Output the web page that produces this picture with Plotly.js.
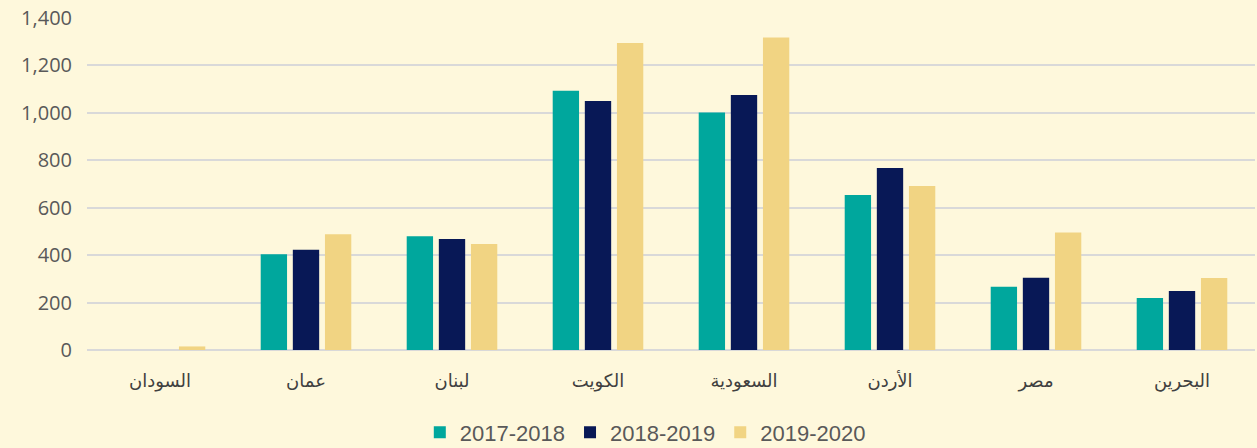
<!DOCTYPE html>
<html><head><meta charset="utf-8">
<script src="https://cdn.plot.ly/plotly-3.0.1.min.js"></script>
<style>html,body{margin:0;padding:0;background:#FEF8DC;}#c{width:1257px;height:448px;}</style>
</head><body><div id="c"></div>
<script>
const categories = ["السودان","عمان","لبنان","الكويت","السعودية","الأردن","مصر","البحرين"];
const seriesNames = ["2017-2018","2018-2019","2019-2020"];
const v2017 = [0, 404, 480, 1093, 1002, 654, 267, 219];
const v2018 = [0, 423, 468, 1050, 1075, 767, 305, 249];
const v2019 = [15, 488, 447, 1295, 1318, 692, 495, 304];
const yTicks = [0,200,400,600,800,1000,1200,1400];
const yTickText = ["0","200","400","600","800","1,000","1,200","1,400"];
const colors = ["#00A79D","#081856","#F1D483"];
const vals = [v2017, v2018, v2019];
const traces = vals.map((v,i)=>({
  type:"bar", x:categories, y:v, name:seriesNames[i],
  marker:{color:colors[i], line:{width:0}}
}));
const layout = {
  width:1257, height:448,
  paper_bgcolor:"#FEF8DC", plot_bgcolor:"#FEF8DC",
  margin:{l:87, r:2, t:18, b:98, autoexpand:false},
  barmode:"group", bargap:0.34, bargroupgap:0.18,
  font:{family:"Liberation Sans, Arial, sans-serif", color:"#595959"},
  xaxis:{type:"category", showgrid:false, zeroline:false, showline:false,
    ticks:"", ticklabelstandoff:18, automargin:false,
    tickfont:{family:"DejaVu Sans, sans-serif", size:18, color:"#404040"}},
  yaxis:{range:[0,1400], tickvals:yTicks, ticktext:yTickText, automargin:false,
    showgrid:true, gridcolor:"#D9D9D9", gridwidth:2,
    zeroline:true, zerolinecolor:"#D9D9D9", zerolinewidth:2.5,
    ticks:"", ticklabelstandoff:14,
    tickfont:{family:"Open Sans, Liberation Sans, sans-serif", size:20, color:"#595959"}},
  legend:{orientation:"h", x:0.478, xanchor:"center", y:-0.248, yanchor:"middle",
    font:{family:"Liberation Sans, Arial, sans-serif", size:22, color:"#595959"},
    bgcolor:"rgba(0,0,0,0)", traceorder:"normal"},
  showlegend:true
};
Plotly.newPlot("c", traces, layout, {displayModeBar:false, staticPlot:true});
</script></body></html>
